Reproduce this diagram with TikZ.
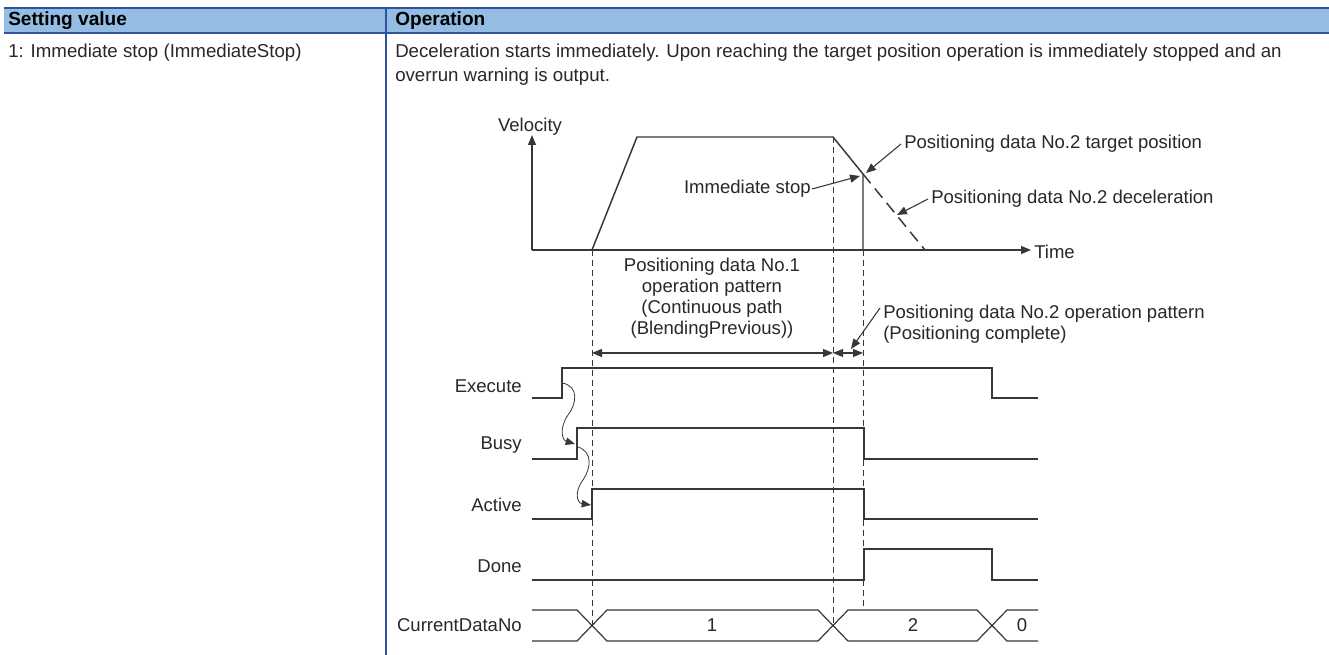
\documentclass[tikz,border=0pt]{standalone}
\usepackage{fontspec}
\setmainfont{Liberation Sans}
\usetikzlibrary{arrows.meta}
\definecolor{hdrbg}{RGB}{149,189,227}
\definecolor{tblue}{RGB}{46,84,160}
\definecolor{ink}{RGB}{40,40,40}
\definecolor{lin}{RGB}{55,55,55}
\newcommand\myfs{\fontsize{14}{17}\selectfont}
\newcommand\mydfs{\fontsize{13.9}{16}\selectfont}
\begin{document}
\begin{tikzpicture}[x=0.75pt,y=-0.75pt,
  txt/.style={inner sep=0pt,text=ink,font=\mydfs},
  ttxt/.style={inner sep=0pt,text=ink,font=\myfs,anchor=west},
  sig/.style={draw=lin,line width=1.1pt},
  guide/.style={draw=lin,line width=0.7pt,dash pattern=on 4.5pt off 3pt},
  tip/.style={-{Triangle[length=7.5pt,width=6pt]}},
  dimarrow/.style={draw=lin,line width=0.8pt,{Triangle[length=7.5pt,width=6pt]}-{Triangle[length=7.5pt,width=6pt]}},
  leader/.style={draw=lin,line width=0.8pt,-{Triangle[length=7.5pt,width=6pt]}}]
\useasboundingbox (0,0) rectangle (1329,655);
\fill[white] (0,0) rectangle (1329,655);
% table
\fill[hdrbg] (4,8) rectangle (1329,33);
\draw[tblue,line width=1.5pt] (4,8) -- (1329,8);
\draw[tblue,line width=1.5pt] (4,33) -- (1329,33);
\draw[tblue,line width=1.3pt] (386,8) -- (386,655);
\node[ttxt,font=\fontsize{14.3}{17}\selectfont\bfseries,text=black] (h1) at (8,21) {Setting value};
\node[ttxt,font=\fontsize{14.3}{17}\selectfont\bfseries,text=black] (h2) at (395,21) {Operation};
\node[ttxt] (r1) at (8,53) {1: Immediate stop (ImmediateStop)};
\node[ttxt] (d1) at (395,53) {Deceleration starts immediately. Upon reaching the target position operation is immediately stopped and an};
\node[ttxt] (d2) at (395,77) {overrun warning is output.};
% velocity graph
\coordinate (O) at (532,250);
\coordinate (ytop) at (532,135);
\coordinate (xend) at (1031,250);
\draw[sig,line width=0.9pt,tip] (O) -- (ytop);
\draw[sig,line width=0.9pt,tip] (O) -- (xend);
\node[txt] (vel) at (530,127) {Velocity};
\node[txt,anchor=west] (time) at (1034,252) {Time};
\coordinate (p1) at (592,250);
\coordinate (p2) at (637,137);
\coordinate (p3) at (833,137);
\coordinate (ps) at (863,174);
\coordinate (pb) at (863,250);
\coordinate (pe) at (925,250);
\draw[sig] (p1) -- (p2) -- (p3) -- (ps) -- (pb);
\draw[sig,dash pattern=on 9pt off 5pt] (ps) -- (pe);
% guides
\draw[guide] (592,250) -- (592,625);
\draw[guide] (833,137) -- (833,625);
\draw[guide] (863,250) -- (863,610);
% annotations
\node[txt,anchor=east] (imm) at (811,189) {Immediate stop};
\draw[leader] (imm.east) ++(1,0) -- (860,176);
\node[txt,anchor=west] (tgt) at (904,144) {Positioning data No.2 target position};
\draw[leader] (tgt.west) ++(-3,0) -- (866,173);
\node[txt,anchor=west] (dec) at (931,199) {Positioning data No.2 deceleration};
\draw[leader] (dec.west) ++(-3,0) -- (897,215);
% operation pattern dims
\node[txt,align=center,anchor=north,font=\fontsize{13.9}{15.8}\selectfont] (pat1) at (712,258) {Positioning data No.1\\operation pattern\\(Continuous path\\(BlendingPrevious))};
\coordinate (da) at (592,353);
\coordinate (db) at (833,353);
\coordinate (dc) at (863,353);
\draw[dimarrow] (da) -- (db);
\draw[dimarrow] (db) -- (dc);
\node[txt,anchor=west,align=left,font=\fontsize{13.9}{15.5}\selectfont] (pat2) at (883,324) {Positioning data No.2 operation pattern\\(Positioning complete)};
\coordinate (l2a) at (880,308);
\coordinate (l2b) at (851,349);
\draw[leader] (l2a) -- (l2b);
% signals
\node[txt,anchor=east] (lex) at (522,386) {Execute};
\node[txt,anchor=east] (lbu) at (522,445) {Busy};
\node[txt,anchor=east] (lac) at (522,505) {Active};
\node[txt,anchor=east] (ldo) at (522,566) {Done};
\node[txt,anchor=east] (lcd) at (522,625) {CurrentDataNo};
\draw[sig] (532,398) -- (562,398) -- (562,368) -- (992,368) -- (992,398) -- (1038,398);
\draw[sig] (532,459) -- (577,459) -- (577,428) -- (864,428) -- (864,459) -- (1038,459);
\draw[sig] (532,519) -- (592,519) -- (592,489) -- (864,489) -- (864,519) -- (1038,519);
\draw[sig] (532,580) -- (864,580) -- (864,549) -- (992,549) -- (992,580) -- (1038,580);
% bus
\draw[sig,line width=0.9pt] (532,610) -- (577,610) -- (607,641) -- (818,641) -- (848,610) -- (977,610) -- (1007,641) -- (1038,641);
\draw[sig,line width=0.9pt] (532,641) -- (577,641) -- (607,610) -- (818,610) -- (848,641) -- (977,641) -- (1007,610) -- (1038,610);
\node[txt] (b1) at (712,625) {1};
\node[txt] (b2) at (913,625) {2};
\node[txt] (b0) at (1022,625) {0};
% causal wavy arrows
\coordinate (w1s) at (562,383);
\coordinate (w1e) at (575,444);
\coordinate (w2s) at (578,447);
\coordinate (w2e) at (591,505);
\draw[draw=lin,line width=0.6pt,-{Triangle[length=7pt,width=5.5pt]}] (w1s) .. controls (580,386) and (576,405) .. (568,415) .. controls (559,428) and (562,440) .. (w1e);
\draw[draw=lin,line width=0.6pt,-{Triangle[length=7pt,width=5.5pt]}] (w2s) .. controls (593,452) and (591,468) .. (583,480) .. controls (574,492) and (577,503) .. (w2e);
\end{tikzpicture}
\end{document}
